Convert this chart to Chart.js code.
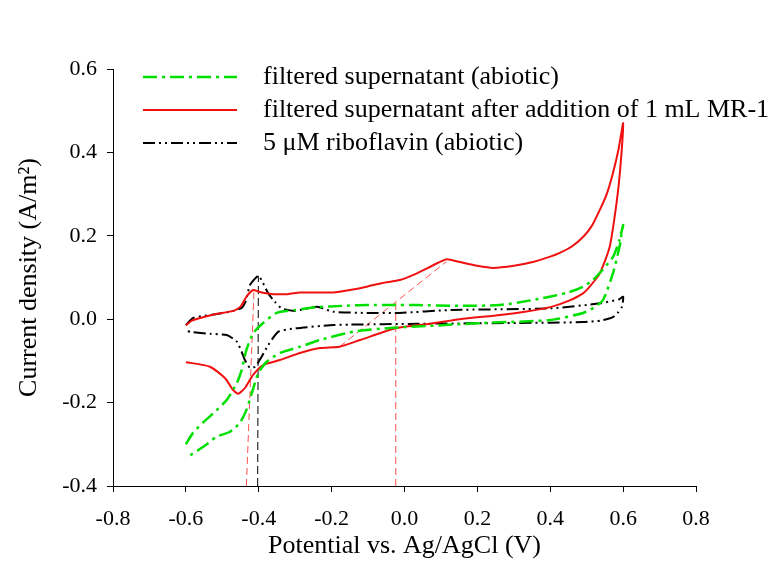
<!DOCTYPE html>
<html>
<head>
<meta charset="utf-8">
<script src="https://cdn.jsdelivr.net/npm/chart.js@4.4.0/dist/chart.umd.min.js"></script>
<style>
  body { margin: 0; background: #fff; }
</style>
</head>
<body>
<canvas id="cv" width="780" height="576"></canvas>
<script>
// series names
const seriesNames = [
  'filtered supernatant (abiotic)',
  'filtered supernatant after addition of 1 mL MR-1',
  '5 \u03bcM riboflavin (abiotic)'
];

// filtered supernatant (abiotic) - forward sweep then return
const greenX = [-0.600,-0.580,-0.552,-0.524,-0.488,-0.460,-0.447,-0.434,-0.415,-0.388,-0.351,-0.300,-0.240,-0.170,-0.104,-0.013,0.034,0.150,0.262,0.352,0.445,0.490,0.517,0.545,0.572,0.590,0.600,
  0.595,0.590,0.572,0.545,0.520,0.490,0.400,0.216,0.152,0.070,-0.040,-0.140,-0.232,-0.287,-0.342,-0.378,-0.401,-0.419,-0.434,-0.452,-0.479,-0.516,-0.552,-0.600];
const greenY = [-0.300,-0.272,-0.247,-0.225,-0.194,-0.153,-0.122,-0.074,-0.033,-0.009,0.015,0.022,0.029,0.032,0.034,0.034,0.034,0.032,0.034,0.046,0.063,0.078,0.094,0.120,0.149,0.190,0.226,
  0.200,0.173,0.110,0.046,0.028,0.015,-0.002,-0.009,-0.012,-0.016,-0.021,-0.030,-0.050,-0.066,-0.081,-0.102,-0.129,-0.177,-0.218,-0.249,-0.270,-0.282,-0.306,-0.333];

// filtered supernatant after addition of MR-1
const redX = [-0.600,-0.585,-0.560,-0.520,-0.470,-0.450,-0.433,-0.415,-0.400,-0.380,-0.360,-0.320,-0.287,-0.240,-0.196,-0.150,-0.104,-0.060,-0.013,0.034,0.080,0.116,0.152,0.200,0.243,0.300,0.352,0.400,0.426,0.460,0.490,0.515,0.536,0.555,0.572,0.588,0.600,
  0.592,0.582,0.563,0.536,0.510,0.490,0.450,0.400,0.330,0.262,0.152,0.070,-0.022,-0.122,-0.178,-0.232,-0.287,-0.342,-0.388,-0.416,-0.438,-0.456,-0.470,-0.493,-0.534,-0.600];
const redY = [-0.015,-0.004,0.003,0.012,0.020,0.030,0.055,0.070,0.066,0.062,0.060,0.060,0.064,0.064,0.064,0.070,0.078,0.087,0.094,0.110,0.130,0.144,0.137,0.128,0.123,0.128,0.137,0.150,0.159,0.175,0.197,0.225,0.262,0.300,0.350,0.410,0.470,
  0.360,0.279,0.173,0.110,0.080,0.062,0.044,0.029,0.018,0.010,0.000,-0.011,-0.021,-0.050,-0.066,-0.069,-0.081,-0.098,-0.110,-0.134,-0.165,-0.179,-0.170,-0.141,-0.114,-0.103];

// 5 uM riboflavin (abiotic)
const blackX = [-0.600,-0.580,-0.534,-0.479,-0.447,-0.435,-0.424,-0.401,-0.388,-0.374,-0.356,-0.337,-0.300,-0.240,-0.196,-0.104,-0.013,0.125,0.400,0.536,0.590,0.600,
  0.597,0.585,0.572,0.540,0.490,0.308,0.034,-0.150,-0.196,-0.300,-0.346,-0.374,-0.392,-0.410,-0.424,-0.438,-0.447,-0.460,-0.488,-0.534,-0.584,-0.600];
const blackY = [-0.014,0.003,0.010,0.018,0.027,0.045,0.082,0.104,0.086,0.062,0.042,0.026,0.020,0.030,0.018,0.015,0.015,0.022,0.026,0.038,0.048,0.054,
  0.030,0.015,0.005,-0.003,-0.007,-0.009,-0.011,-0.013,-0.014,-0.022,-0.030,-0.062,-0.090,-0.114,-0.117,-0.098,-0.078,-0.054,-0.038,-0.035,-0.031,-0.028];

// thin guide lines (peak potentials)
const redPeakX = [-0.434, -0.413], redPeakY = [-0.4, 0.070];
const redMidX = [-0.024, -0.024], redMidY = [-0.4, 0.042];
const redTanX = [-0.178, 0.115], redTanY = [-0.066, 0.138];
const blackPeakX = [-0.403, -0.401], blackPeakY = [-0.4, 0.104];

// axes
const xTicks = [-0.8, 0.8, 0.2];
const yTicks = [-0.4, 0.6, 0.2];

function pts(xs, ys) {
  return xs.map((x, i) => ({x: x, y: ys[i]}));
}

function guide(xs, ys, color, dash) {
  return {
    data: pts(xs, ys),
    showLine: true,
    borderColor: color,
    borderWidth: 1,
    borderDash: dash,
    pointRadius: 0,
    fill: false
  };
}

Chart.defaults.font.family = '"Liberation Serif", "Times New Roman", serif';
Chart.defaults.color = '#000';

const legendLines = {
  id: 'legendLines',
  afterDraw(chart) {
    const ctx = chart.ctx;
    const area = chart.chartArea;
    let y = area.top + 8;
    chart.data.datasets.forEach(ds => {
      if (!ds.label) return;
      ctx.save();
      ctx.strokeStyle = ds.borderColor;
      ctx.lineWidth = ds.borderWidth;
      ctx.setLineDash(ds.borderDash || []);
      ctx.beginPath();
      ctx.moveTo(area.left + 30, y);
      ctx.lineTo(area.left + 124, y);
      ctx.stroke();
      ctx.fillStyle = '#000';
      ctx.font = '26px "Liberation Serif"';
      ctx.textBaseline = 'middle';
      ctx.fillText(ds.label, area.left + 150, y);
      ctx.restore();
      y += 33;
    });
  }
};

new Chart(document.getElementById('cv'), {
  type: 'scatter',
  data: {
    datasets: [
      {
        label: seriesNames[0],
        data: pts(greenX, greenY),
        showLine: true,
        borderColor: '#00e000',
        borderWidth: 2.5,
        borderDash: [14, 5, 3, 5],
        pointRadius: 0,
        tension: 0.2
      },
      {
        label: seriesNames[1],
        data: pts(redX, redY),
        showLine: true,
        borderColor: '#f01010',
        borderWidth: 2,
        pointRadius: 0,
        tension: 0.2
      },
      {
        label: seriesNames[2],
        data: pts(blackX, blackY),
        showLine: true,
        borderColor: '#000',
        borderWidth: 2,
        borderDash: [12, 4, 2, 4, 2, 4],
        pointRadius: 0,
        tension: 0.2
      },
      guide(redPeakX, redPeakY, '#ff5050', [7, 4]),
      guide(redMidX, redMidY, '#ff5050', [7, 4]),
      guide(redTanX, redTanY, '#ff5050', [7, 4]),
      guide(blackPeakX, blackPeakY, '#000', [8, 4])
    ]
  },
  options: {
    responsive: false,
    animation: false,
    devicePixelRatio: 1,
    layout: { padding: { left: 10, top: 69, right: 84, bottom: 10 } },
    plugins: {
      legend: { display: false },
      tooltip: { enabled: false }
    },
    scales: {
      x: {
        type: 'linear',
        min: xTicks[0],
        max: xTicks[1],
        afterFit: s => { s.height = 80; },
        ticks: {
          stepSize: xTicks[2],
          padding: 14,
          font: { size: 22 },
          callback: v => (Math.abs(v) < 1e-9 ? 0 : v).toFixed(1)
        },
        grid: { drawOnChartArea: false, tickLength: 6, color: '#000' },
        border: { color: '#000', width: 1 },
        title: {
          display: true,
          text: 'Potential vs. Ag/AgCl (V)',
          font: { size: 26 },
          padding: { top: 0, bottom: 4 }
        }
      },
      y: {
        type: 'linear',
        min: yTicks[0],
        max: yTicks[1],
        afterFit: s => { s.width = 103; },
        ticks: {
          stepSize: yTicks[2],
          padding: 10,
          font: { size: 22 },
          callback: v => (Math.abs(v) < 1e-9 ? 0 : v).toFixed(1)
        },
        grid: { drawOnChartArea: false, tickLength: 6, color: '#000' },
        border: { color: '#000', width: 1 },
        title: {
          display: true,
          text: 'Current density (A/m\u00b2)',
          font: { size: 26 },
          padding: { top: 4, bottom: 0 }
        }
      }
    }
  },
  plugins: [legendLines]
});
</script>
</body>
</html>
